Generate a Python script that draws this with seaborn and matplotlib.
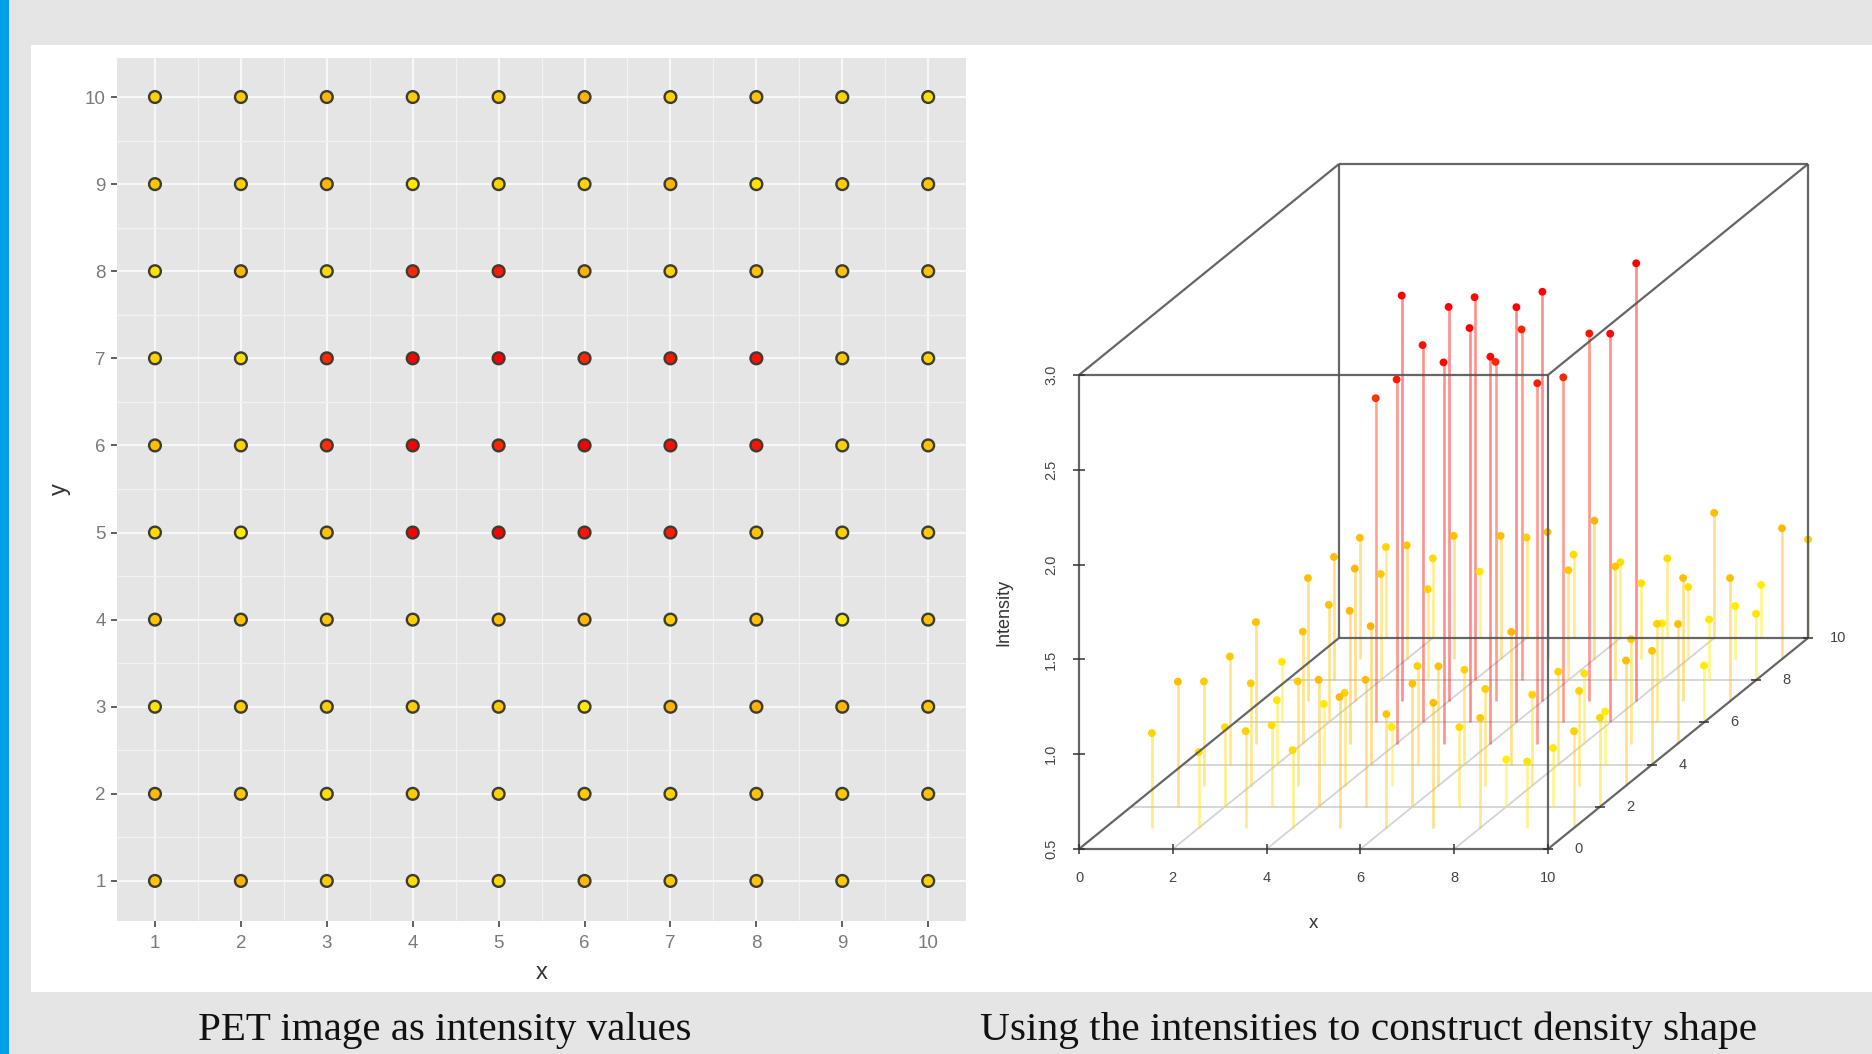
import matplotlib
matplotlib.use("Agg")
import matplotlib.pyplot as plt
from matplotlib.colors import LinearSegmentedColormap
from matplotlib.patches import Rectangle
import numpy as np
import pandas as pd
import seaborn as sns

W, H = 1872, 1054

grid_ticks = [1, 2, 3, 4, 5, 6, 7, 8, 9, 10]
rows_top_down = [10, 9, 8, 7, 6, 5, 4, 3, 2, 1]

pet_10 = [1.00, 1.05, 1.20, 1.05, 1.05, 1.22, 1.00, 1.12, 1.00, 0.88]
pet_9 = [1.10, 1.00, 1.20, 0.85, 1.00, 0.98, 1.22, 0.88, 1.03, 1.08]
pet_8 = [0.88, 1.20, 0.95, 2.30, 2.40, 1.25, 1.00, 1.12, 1.10, 1.10]
pet_7 = [1.00, 0.88, 2.30, 2.60, 2.65, 2.30, 2.45, 2.50, 1.07, 1.00]
pet_6 = [1.15, 1.00, 2.25, 2.80, 2.30, 2.65, 2.50, 2.45, 1.02, 1.12]
pet_5 = [0.92, 0.78, 1.12, 2.70, 2.65, 2.45, 2.40, 1.10, 1.02, 1.05]
pet_4 = [1.10, 1.10, 1.08, 1.03, 1.12, 1.20, 1.03, 1.15, 0.80, 1.13]
pet_3 = [0.88, 1.03, 1.03, 1.05, 1.05, 0.82, 1.22, 1.25, 1.18, 1.08]
pet_2 = [1.18, 1.05, 0.90, 1.05, 1.00, 1.05, 0.98, 1.12, 1.05, 1.12]
pet_1 = [1.10, 1.22, 1.05, 0.92, 0.92, 1.20, 1.05, 1.12, 1.05, 1.00]
pet_rows = [pet_10, pet_9, pet_8, pet_7, pet_6, pet_5, pet_4, pet_3, pet_2, pet_1]

# heights
z_10 = [0.98, 0.92, 0.85, 1.03, 0.94, 0.90, 0.92, 1.16, 0.78, 1.02]
z_9 = [1.14, 1.10, 1.15, 1.15, 1.17, 1.23, 0.90, 0.88, 0.78, 1.19]
z_8 = [1.15, 1.06, 0.98, 2.52, 2.35, 1.08, 1.10, 0.80, 0.82, 0.85]
z_7 = [1.15, 1.20, 2.64, 2.58, 2.29, 2.66, 2.44, 2.81, 1.15, 1.15]
z_6 = [0.82, 1.12, 2.21, 2.49, 2.58, 2.69, 2.32, 2.55, 1.02, 0.80]
z_5 = [1.14, 1.09, 1.20, 2.42, 2.51, 2.54, 2.40, 0.87, 1.05, 1.13]
z_4 = [1.07, 0.84, 0.82, 1.23, 1.02, 1.00, 1.20, 0.99, 0.78, 1.10]
z_3 = [1.05, 1.04, 1.05, 0.99, 0.81, 1.13, 1.01, 0.98, 1.00, 1.16]
z_2 = [1.16, 0.92, 0.93, 1.17, 1.17, 1.15, 0.92, 0.75, 0.81, 0.97]
z_1 = [1.00, 0.90, 1.01, 0.91, 1.19, 1.10, 1.16, 1.08, 0.85, 1.01]
z_rows = [z_10, z_9, z_8, z_7, z_6, z_5, z_4, z_3, z_2, z_1]

x_ticks_3d = [0, 2, 4, 6, 8, 10]
y_ticks_3d = [0, 2, 4, 6, 8, 10]
z_ticks_3d = [0.5, 1.0, 1.5, 2.0, 2.5, 3.0]

caption_left = "PET image as intensity values"
caption_right = "Using the intensities to construct density shape"


def long_table(rows):
    out = []
    for yy, row in zip(rows_top_down, rows):
        for xx, val in zip(grid_ticks, row):
            out.append((xx, yy, val))
    return pd.DataFrame(out, columns=["x", "y", "value"])


def axes_px(left, top, right, bottom):
    return fig.add_axes([left / W, 1 - bottom / H, (right - left) / W, (bottom - top) / H])


sns.set_style("darkgrid")
plt.rcParams["font.family"] = ["Liberation Sans", "DejaVu Sans"]

heat = LinearSegmentedColormap.from_list("heat", ["#FFFF00", "#FF0000"])
norm = (0.65, 2.6)

fig = plt.figure(figsize=(W / 100, H / 100), dpi=100, facecolor="#E5E5E5")
fig.add_artist(Rectangle((31 / W, 1 - 992 / H), 1 - 31 / W, 947 / H, transform=fig.transFigure,
                         color="white", lw=0, zorder=-2))
fig.add_artist(Rectangle((0, 0), 9 / W, 1, transform=fig.transFigure, color="#009FE8", lw=0, zorder=-2))

# ggplot looking panel
ax = axes_px(117, 58, 966, 921)
ax.set_facecolor("#E5E5E5")
sns.scatterplot(data=long_table(pet_rows), x="x", y="y", hue="value", palette=heat, hue_norm=norm,
                s=72, edgecolor="#3C3C34", linewidth=1.7, legend=False, ax=ax, zorder=3)
ax.set_xlim(0.558, 10.44)
ax.set_ylim(0.54, 10.448)
ax.set_xticks(grid_ticks)
ax.set_yticks(grid_ticks)
ax.set_xticks(np.arange(1.5, 10), minor=True)
ax.set_yticks(np.arange(1.5, 10), minor=True)
ax.grid(which="major", color="#F7F7F7", lw=1.6)
ax.grid(which="minor", color="#F2F2F2", lw=0.9)
ax.tick_params(which="major", length=4, width=1.2, color="#444444", labelcolor="#7A7A7A", labelsize=13.5,
               bottom=True, left=True, pad=4)
ax.tick_params(axis="x", which="major", pad=6)
ax.tick_params(which="minor", length=0)
for s in ax.spines.values():
    s.set_visible(False)
ax.set_xlabel("x", fontsize=17, color="#333333", labelpad=7)
ax.set_ylabel("y", fontsize=17, color="#333333", labelpad=10)

# scatterplot3d looking panel, pixels per unit on each direction
UNIT = 46.9
Y_DX = 26.0 / UNIT
Y_DY = 21.1 / UNIT
Z_DY = 189.6 / UNIT


def project(xx, yy, zz):
    xx, yy, zz = np.asarray(xx, float), np.asarray(yy, float), np.asarray(zz, float)
    return xx + yy * Y_DX, (zz - 0.5) * Z_DY + yy * Y_DY


bx = axes_px(985, 130, 1872, 960)
bx.patch.set_alpha(0)


def seg3d(a, b, **kw):
    p, q = project(*a), project(*b)
    bx.plot([p[0], q[0]], [p[1], q[1]], solid_capstyle="butt", **kw)


# floor grid
for t in x_ticks_3d[1:-1]:
    seg3d((t, 0, 0.5), (t, 10, 0.5), color="#D4D4D4", lw=1.3, zorder=1)
for t in y_ticks_3d[1:-1]:
    seg3d((0, t, 0.5), (10, t, 0.5), color="#D4D4D4", lw=1.3, zorder=1)

df = long_table(z_rows)
u, v = project(df["x"], df["y"], df["value"])
u0, v0 = project(df["x"], df["y"], 0.5)
cols = heat((df["value"].to_numpy() - norm[0]) / (norm[1] - norm[0]))
bx.vlines(u, v0, v, colors=cols, lw=1.9, alpha=0.45, zorder=2)
plot_df = pd.DataFrame({"u": u, "v": v, "value": df["value"]})
sns.scatterplot(data=plot_df, x="u", y="v", hue="value", palette=heat, hue_norm=norm, s=32,
                edgecolor="none", legend=False, ax=bx, zorder=3)

box = dict(color="#555555", lw=1.6, alpha=0.9, zorder=4)
for a, b in [((0, 0, 0.5), (10, 0, 0.5)), ((0, 0, 3), (10, 0, 3)), ((0, 10, 0.5), (10, 10, 0.5)),
             ((0, 10, 3), (10, 10, 3)), ((0, 0, 0.5), (0, 10, 0.5)), ((10, 0, 0.5), (10, 10, 0.5)),
             ((0, 0, 3), (0, 10, 3)), ((10, 0, 3), (10, 10, 3)), ((0, 0, 0.5), (0, 0, 3)),
             ((10, 0, 0.5), (10, 0, 3)), ((0, 10, 0.5), (0, 10, 3)), ((10, 10, 0.5), (10, 10, 3))]:
    seg3d(a, b, **box)

label = dict(fontsize=10.5, color="#444444", textcoords="offset points", ha="center", va="center")
for t in x_ticks_3d:
    seg3d((t, 0, 0.475), (t, 0, 0.525), color="#333333", lw=1.1, zorder=4)
    bx.annotate(str(t), project(t, 0, 0.5), xytext=(0, -21), **label)
for t in y_ticks_3d:
    seg3d((10 - 0.1, t, 0.5), (10 + 0.1, t, 0.5), color="#333333", lw=1.1, zorder=4)
    bx.annotate(str(t), project(10, t, 0.5), xytext=(22, 0), **label)
for t in z_ticks_3d:
    seg3d((-0.12, 0, t), (0.12, 0, t), color="#333333", lw=1.1, zorder=4)
    bx.annotate(f"{t:.1f}", project(0, 0, t), xytext=(-20, 0), rotation=90, **label)

# limits set last, the seaborn call and the lines would autoscale them
bx.set_xlim((985 - 1079) / UNIT, (1872 - 1079) / UNIT)
bx.set_ylim((849 - 960) / UNIT, (849 - 130) / UNIT)
bx.axis("off")

fig.text(1004 / W, 1 - 612 / H, "Intensity", fontsize=13, color="#333333", rotation=90, ha="center", va="center")
fig.text(1313 / W, 1 - 923 / H, "x", fontsize=13.5, color="#333333", ha="center", va="center")

cap = dict(color="#111111", family=["Liberation Serif", "DejaVu Serif"], ha="center", va="baseline")
fig.text(445 / W, 1 - 1040 / H, caption_left, fontsize=29.5, **cap)
fig.text(1368 / W, 1 - 1040 / H, caption_right, fontsize=29.8, **cap)

fig.savefig("out.png", dpi=100, facecolor=fig.get_facecolor())
